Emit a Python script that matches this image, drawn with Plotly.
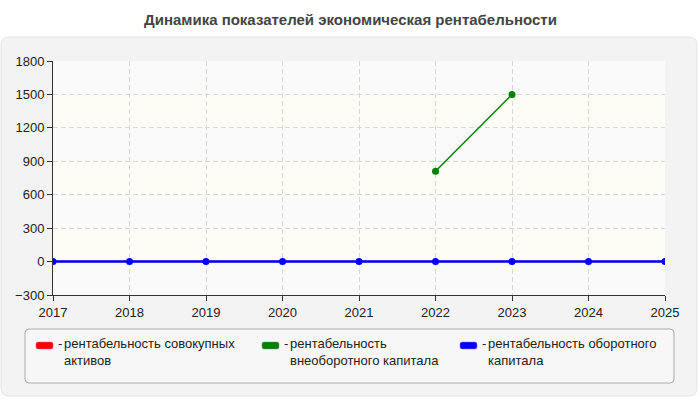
import plotly.graph_objects as go

years = [2017, 2018, 2019, 2020, 2021, 2022, 2023, 2024, 2025]
assets_total = [0, 0, 0, 0, 0, 0, 0, 0, 0]
noncurrent_capital = [None, None, None, None, None, 810, 1500, None, None]
working_capital = [0, 0, 0, 0, 0, 0, 0, 0, 0]

series_names = [
    "рентабельность совокупных<br>активов",
    "рентабельность<br>внеоборотного капитала",
    "рентабельность оборотного<br>капитала",
]
series_colors = ["#ff0000", "#008000", "#0000ff"]
y_ticks = [-300, 0, 300, 600, 900, 1200, 1500, 1800]
title_text = "Динамика показателей экономическая рентабельности"

W, H = 700, 400
L, R, T, B = 53, 665, 61, 295
FONT = "Liberation Sans, Arial"


def px(x):
    return (x - L) / (R - L)


def py(y):
    return (B - y) / (B - T)


def rounded(x0, y0, x1, y1, r):
    pts = [
        f"M{px(x0 + r)},{py(y0)}",
        f"L{px(x1 - r)},{py(y0)}",
        f"Q{px(x1)},{py(y0)} {px(x1)},{py(y0 + r)}",
        f"L{px(x1)},{py(y1 - r)}",
        f"Q{px(x1)},{py(y1)} {px(x1 - r)},{py(y1)}",
        f"L{px(x0 + r)},{py(y1)}",
        f"Q{px(x0)},{py(y1)} {px(x0)},{py(y1 - r)}",
        f"L{px(x0)},{py(y0 + r)}",
        f"Q{px(x0)},{py(y0)} {px(x0 + r)},{py(y0)}",
        "Z",
    ]
    return " ".join(pts)


fig = go.Figure()
fig.add_trace(go.Scatter(x=years, y=assets_total, mode="lines+markers",
                         line=dict(color=series_colors[0], width=1.5),
                         marker=dict(size=5, color=series_colors[0]), showlegend=False))
fig.add_trace(go.Scatter(x=years, y=noncurrent_capital, mode="lines+markers",
                         line=dict(color=series_colors[1], width=1.5),
                         marker=dict(size=7, color=series_colors[1]), showlegend=False))
fig.add_trace(go.Scatter(x=years, y=working_capital, mode="lines+markers",
                         line=dict(color=series_colors[2], width=2.5),
                         marker=dict(size=7, color=series_colors[2]), showlegend=False))

shapes = []
# outer grey panel
shapes.append(dict(type="path", xref="paper", yref="paper", path=rounded(1, 37, 697, 396, 8),
                   fillcolor="#f3f3f3", line=dict(color="#e4e4e4", width=1), layer="below"))
# alternating bands
for i in range(len(y_ticks) - 1):
    y0, y1 = y_ticks[i], y_ticks[i + 1]
    col = "#fafafa" if i % 2 == 0 else "#fdfdf6"
    shapes.append(dict(type="rect", xref="x", yref="y", x0=years[0], x1=years[-1], y0=y0, y1=y1,
                       fillcolor=col, line=dict(width=0), layer="below"))
# legend box
shapes.append(dict(type="path", xref="paper", yref="paper", path=rounded(25, 329, 674, 383, 4),
                   fillcolor="#f7f7f7", line=dict(color="#aaaaaa", width=1), layer="above"))

annotations = [dict(text="<b>" + title_text + "</b>", xref="paper", yref="paper", x=px(350), y=py(20),
                    xanchor="center", yanchor="middle", showarrow=False,
                    font=dict(family=FONT, size=15, color="#444444"))]

sw_x = [36, 262, 460]
for i, (name, col) in enumerate(zip(series_names, series_colors)):
    x0 = sw_x[i]
    shapes.append(dict(type="path", xref="paper", yref="paper", path=rounded(x0, 342, x0 + 17, 349, 2),
                       fillcolor=col, line=dict(color="#888888", width=0.5), layer="above"))
    annotations.append(dict(text="-", xref="paper", yref="paper", x=px(x0 + 20), y=py(343),
                            xanchor="left", yanchor="middle", showarrow=False,
                            font=dict(family=FONT, size=13, color="#222222")))
    annotations.append(dict(text=name, xref="paper", yref="paper", x=px(x0 + 26), y=py(334),
                            xanchor="left", yanchor="top", align="left", showarrow=False,
                            font=dict(family=FONT, size=13, color="#222222")))

fig.update_layout(
    width=W, height=H,
    margin=dict(l=L, r=W - R, t=T, b=H - B, pad=0),
    paper_bgcolor="white", plot_bgcolor="white",
    font=dict(family=FONT, size=13, color="#222222"),
    shapes=shapes, annotations=annotations, showlegend=False,
    xaxis=dict(range=[years[0], years[-1]], tickvals=years, ticktext=[str(y) for y in years],
               showline=True, linecolor="#333333", linewidth=1, ticks="outside", ticklen=5,
               tickcolor="#333333", showgrid=True, gridcolor="#d9d9d9", griddash="5px,3px",
               zeroline=False, tickfont=dict(size=13, color="#222222")),
    yaxis=dict(range=[y_ticks[0], y_ticks[-1]], tickvals=y_ticks, showline=True, linecolor="#333333",
               linewidth=1, ticks="outside", ticklen=5, tickcolor="#333333", showgrid=True,
               gridcolor="#d9d9d9", griddash="5px,3px", zeroline=False,
               tickfont=dict(size=13, color="#222222")),
)

fig.write_html("out.html")
